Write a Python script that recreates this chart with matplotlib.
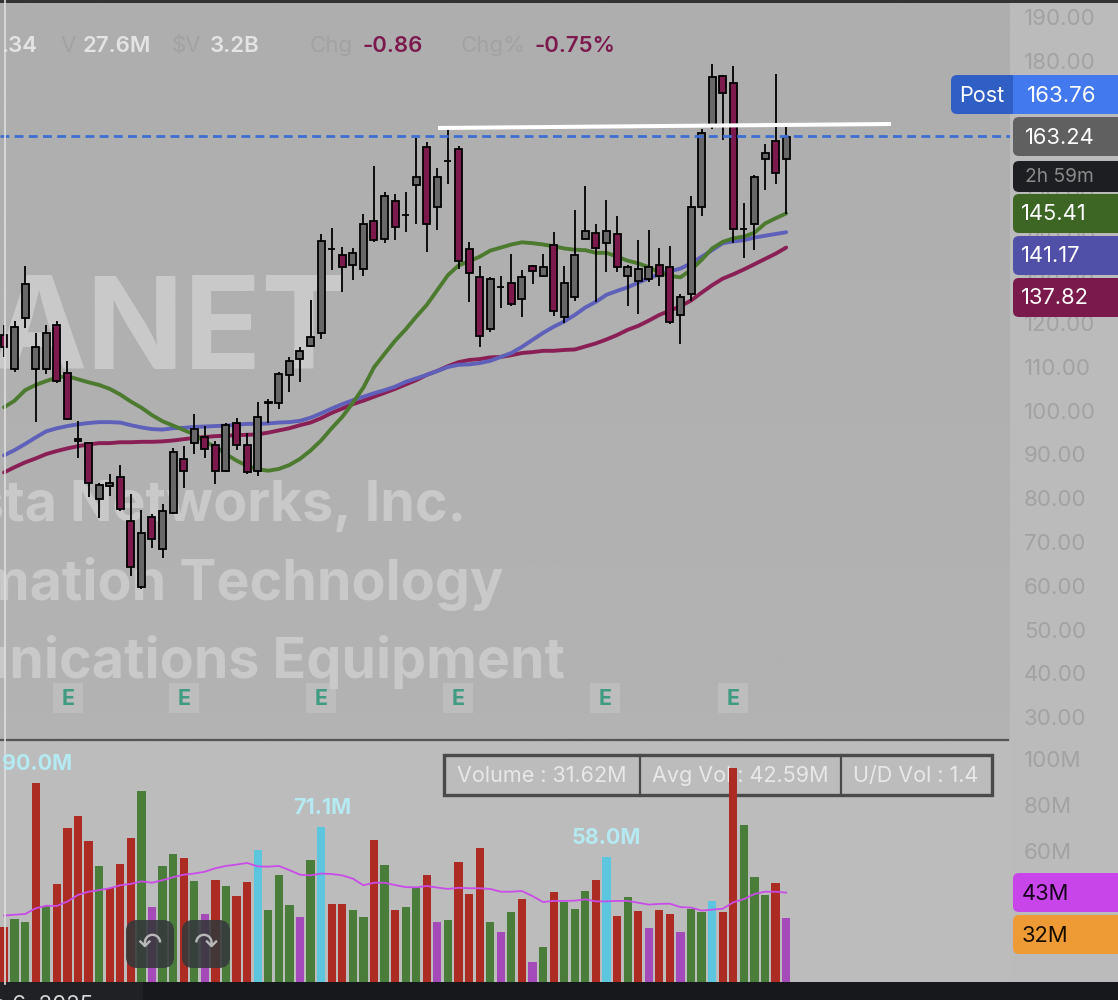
import numpy as np
import matplotlib
matplotlib.use('Agg')
import matplotlib.pyplot as plt
from matplotlib.patches import FancyBboxPatch, Rectangle

plt.rcParams['font.family'] = ['Inter', 'DejaVu Sans']

#-------------------------------------------------
# Values
#-------------------------------------------------
opens = [117.3, 109.5, 121.3, 109.5, 109.5, 119.7, 108.7, 93.6, 92.7, 79.8,
         82.9, 84.9, 74.9, 59.8, 75.8, 68.5, 76.7, 89.0, 92.7, 94.0,
         92.2, 86.2, 97.2, 92.2, 86.2, 101.7, 101.7, 108.1, 111.8, 114.9,
         117.7, 136.9, 135.6, 133.3, 132.3, 143.4, 139.3, 148.0, 144.7, 151.5,
         160.4, 146.5, 157.1, 159.9, 137.0, 130.6, 118.6, 128.3, 129.3, 125.5,
         133.0, 130.9, 138.0, 121.4, 125.9, 139.2, 140.7, 138.3, 140.3, 130.9,
         129.7, 130.2, 133.3, 132.9, 121.8, 126.8, 146.5, 165.3, 176.4, 175.0,
         141.5, 142.8, 157.5, 161.7, 157.5]
closes = [114.5, 119.2, 128.9, 114.6, 117.8, 106.8, 98.1, 93.0, 83.6, 83.1,
          83.6, 77.5, 64.3, 72.1, 70.8, 77.2, 90.5, 86.2, 95.9, 91.2,
          86.2, 96.8, 92.2, 86.1, 98.6, 101.9, 108.3, 111.4, 113.7, 116.9,
          138.9, 137.0, 132.8, 136.1, 142.6, 139.0, 149.1, 142.1, 144.8, 153.5,
          142.8, 153.5, 157.2, 134.2, 131.4, 117.2, 130.2, 128.4, 124.5, 130.6,
          131.9, 132.9, 122.7, 129.3, 135.7, 141.2, 137.3, 141.2, 132.8, 132.9,
          132.5, 132.9, 130.9, 120.4, 126.1, 146.6, 163.6, 176.4, 172.6, 141.5,
          141.6, 153.5, 159.0, 154.3, 162.6]
highs = [119.6, 120.6, 133.1, 117.8, 119.7, 120.6, 111.4, 97.7, 92.7, 83.6,
         85.5, 87.7, 80.9, 77.3, 76.4, 78.7, 91.4, 91.9, 99.2, 96.5,
         93.2, 97.3, 98.3, 95.0, 101.9, 102.8, 108.8, 112.4, 114.6, 125.3,
         140.3, 141.7, 137.5, 137.1, 145.0, 155.9, 149.9, 149.5, 150.0, 162.3,
         161.4, 155.4, 164.5, 160.5, 138.5, 133.1, 130.6, 130.8, 135.8, 132.2,
         133.3, 135.8, 140.8, 133.1, 145.9, 151.4, 142.6, 148.2, 144.5, 133.3,
         139.0, 141.3, 137.2, 137.6, 126.6, 149.1, 164.5, 179.3, 176.8, 178.8,
         147.6, 154.0, 161.0, 176.9, 164.9]
lows = [112.4, 108.9, 119.0, 97.5, 108.4, 106.3, 97.9, 89.3, 80.2, 75.6,
        80.5, 77.0, 62.3, 59.2, 68.7, 66.4, 76.5, 82.4, 90.1, 89.3,
        83.3, 86.1, 91.0, 85.6, 85.2, 97.1, 100.3, 104.3, 106.6, 114.5,
        116.3, 132.2, 127.2, 130.0, 130.9, 138.6, 138.3, 139.0, 140.9, 142.8,
        136.4, 141.3, 151.8, 132.3, 124.9, 114.5, 118.1, 123.6, 123.9, 121.4,
        129.0, 130.5, 121.7, 120.0, 125.0, 139.2, 124.9, 131.8, 131.7, 123.9,
        122.1, 129.5, 128.5, 119.8, 115.3, 125.0, 144.6, 164.3, 162.0, 138.3,
        135.0, 136.7, 150.5, 151.8, 145.0]

ma_green = [100.8, 102.3, 104.7, 105.9, 106.8, 107.6, 107.9, 107.2, 106.5, 105.9,
            105.0, 103.7, 102.1, 100.7, 99.0, 97.6, 96.6, 95.6, 94.6, 92.9,
            91.8, 90.1, 88.6, 87.4, 86.6, 86.3, 86.7, 87.6, 89.0, 90.9,
            93.2, 96.0, 98.6, 101.8, 105.3, 109.9, 113.0, 116.0, 118.6, 121.5,
            124.2, 127.6, 131.0, 133.2, 134.2, 135.2, 136.6, 137.3, 138.0, 138.5,
            138.3, 138.0, 137.6, 137.1, 136.8, 136.7, 136.1, 136.1, 135.2, 134.3,
            133.7, 132.8, 131.6, 130.8, 130.5, 132.2, 134.5, 137.1, 138.6, 139.4,
            139.8, 140.7, 142.8, 144.0, 145.1]
ma_blue = [89.8, 91.0, 92.4, 93.9, 95.3, 96.0, 96.5, 96.9, 97.2, 97.4,
           97.4, 97.3, 96.7, 96.2, 95.8, 95.7, 96.0, 96.1, 96.3, 96.4,
           96.5, 96.6, 96.8, 97.0, 97.0, 97.1, 97.3, 97.4, 97.7, 98.4,
           99.4, 100.5, 101.5, 102.4, 103.2, 104.0, 104.7, 105.5, 106.6, 107.4,
           108.2, 109.1, 110.0, 110.5, 110.6, 110.9, 111.4, 112.3, 113.2, 114.6,
           116.2, 117.8, 119.2, 120.4, 121.9, 123.6, 124.9, 126.5, 127.4, 128.2,
           129.3, 130.3, 131.2, 131.9, 132.5, 133.7, 135.2, 136.7, 138.3, 138.7,
           139.0, 139.6, 140.0, 140.4, 140.8]
ma_maroon = [85.9, 87.1, 88.2, 89.1, 90.1, 90.8, 91.4, 91.9, 92.3, 92.6,
             92.6, 92.8, 92.8, 92.9, 92.9, 93.0, 93.2, 93.5, 93.8, 94.0,
             94.2, 94.3, 94.4, 94.5, 94.6, 95.0, 95.5, 96.0, 96.7, 97.3,
             98.3, 99.5, 100.5, 101.5, 102.3, 103.2, 104.1, 105.0, 106.0, 107.0,
             108.2, 109.1, 110.2, 111.1, 111.6, 111.8, 112.2, 112.3, 112.7, 113.2,
             113.4, 113.7, 113.7, 113.9, 114.0, 114.7, 115.4, 116.3, 117.3, 118.5,
             119.4, 120.6, 121.9, 122.9, 123.9, 125.2, 127.0, 128.7, 130.2, 131.2,
             132.3, 133.5, 134.7, 135.9, 137.3]

volume = [27.1, 30.3, 29.3, 89.4, 36.2, 45.7, 69.9, 75.2, 64.5, 53.5,
          43.8, 54.2, 65.5, 86.2, 35.5, 53.5, 58.5, 57.1, 47.1, 32.6,
          47.3, 45.0, 40.4, 46.5, 60.3, 34.2, 49.7, 36.7, 31.5, 56.1,
          70.3, 37.1, 36.8, 34.5, 31.5, 64.8, 53.8, 34.5, 35.8, 43.8,
          49.4, 29.0, 30.0, 55.4, 41.2, 61.4, 29.3, 24.6, 33.5, 39.3,
          11.9, 18.3, 42.3, 37.8, 34.6, 42.5, 47.3, 57.5, 31.7, 40.2,
          33.9, 26.5, 34.3, 32.5, 25.0, 34.6, 33.6, 38.1, 33.6, 96.2,
          71.3, 48.6, 40.9, 46.0, 31.0]
# r red, g green, p purple, c cyan
volume_kind = list('rggrg' 'rrrrg' 'rrrgp' 'ggrgp' 'rgrrc' 'gggpg' 'crrgg'
                   'rgrgg' 'rpgrr' 'rgpgr' 'pgrgg' 'grcrg' 'rprrp' 'ggcrr'
                   'gggrp')
volume_ma = [31.9, 32.3, 32.6, 35.1, 36.2, 36.1, 38.0, 40.9, 42.3, 43.0,
             43.8, 45.1, 45.7, 46.8, 46.2, 47.3, 48.6, 49.7, 50.2, 51.0,
             52.5, 53.5, 54.1, 54.8, 53.3, 53.2, 53.5, 51.7, 49.7, 49.4,
             50.2, 50.0, 49.4, 48.0, 45.1, 46.2, 46.2, 45.2, 44.3, 44.2,
             44.8, 44.1, 43.5, 44.0, 43.8, 43.8, 43.5, 42.3, 42.3, 42.6,
             40.4, 37.8, 38.3, 38.3, 38.4, 39.0, 38.1, 38.1, 38.3, 38.3,
             37.5, 36.7, 37.0, 37.1, 35.6, 35.4, 34.1, 34.5, 34.9, 37.7,
             39.1, 41.3, 42.3, 42.3, 41.9]

price_ticks = [30, 40, 50, 60, 70, 80, 90, 100, 110, 120, 130, 140, 150, 160, 170, 180, 190]
volume_ticks = [60, 80, 100]
volume_tick_labels = ['60M', '80M', '100M']
earnings_x = [68, 184, 321, 458, 605, 733]
peak_labels = [('90.0M', 37, 763.5), ('71.1M', 322, 807.5), ('58.0M', 606, 837.5)]

#-------------------------------------------------
W, H = 1118, 1000
PANE_R = 1010
DPI = 100
GRAY, MAROON = '#686868', '#7c1a4e'
TICK_COL = '#a2a2a2'
KIND_COL = {'r': '#ac2c24', 'g': '#4a7d3a', 'p': '#a44bb9', 'c': '#5cc6df'}


def pane(y_top, y_bot, zorder):
    # axes given in pixels from the top left corner of the picture
    a = fig.add_axes([0, 1 - y_bot / H, PANE_R / W, (y_bot - y_top) / H], zorder=zorder)
    a.patch.set_alpha(0)
    for s in a.spines.values():
        s.set_visible(False)
    a.set_xlim(-4 / 10.57, (PANE_R - 4) / 10.57)
    a.xaxis.set_visible(False)
    a.yaxis.tick_right()
    a.tick_params(axis='y', length=0, pad=10, labelsize=16, labelcolor=TICK_COL)
    return a


def box(a, x0, y0, x1, y1, col, r=6, **kw):
    a.add_patch(FancyBboxPatch((x0 + r, y0 + r), x1 - x0 - 2 * r, y1 - y0 - 2 * r,
                               boxstyle='round,pad=%d,rounding_size=%d' % (r, r),
                               fc=col, ec='none', **kw))


fig = plt.figure(figsize=(W / DPI, H / DPI), dpi=DPI)

# background, watermark and stats box sit under the panes
bg = fig.add_axes([0, 0, 1, 1], zorder=0)
bg.set_xlim(0, W)
bg.set_ylim(H, 0)
bg.axis('off')
grad = np.linspace(0.68, 0.70, 256).reshape(-1, 1)
bg.imshow(grad, cmap='gray', vmin=0, vmax=1, extent=[0, PANE_R, 739, 0], aspect='auto')
bg.set_xlim(0, W)
bg.set_ylim(H, 0)
bg.add_patch(Rectangle((0, 739), PANE_R, 245, fc='#bcbcbc', ec='none'))
bg.add_patch(Rectangle((PANE_R, 0), W - PANE_R, 984, fc='#bbbbbb', ec='none'))
bg.add_patch(Rectangle((0, 0), W, 3, fc='#333333', ec='none'))
bg.add_patch(Rectangle((0, 982), W, 18, fc='#17181c', ec='none'))
bg.add_patch(Rectangle((0, 982), 143, 18, fc='#202125', ec='none'))
bg.plot([0, PANE_R - 2], [739.5, 739.5], color='#555555', lw=1.6)

wm = '#c9c9c9'
bg.text(347, 369, 'ANET', color=wm, fontsize=92, fontweight='bold', ha='right', va='baseline')
bg.text(466, 521, 'Arista Networks, Inc.', color=wm, fontsize=40, fontweight='bold', ha='right', va='baseline')
bg.text(503, 600, 'Information Technology', color=wm, fontsize=40, fontweight='bold', ha='right', va='baseline')
bg.text(565, 678, 'Communications Equipment', color=wm, fontsize=40, fontweight='bold', ha='right', va='baseline')

for x in earnings_x:
    bg.add_patch(Rectangle((x - 15, 683), 30, 30, fc='#bdbdbd', ec='none'))
    bg.text(x, 699, 'E', color='#3f9b82', fontsize=15.5, fontweight='bold', ha='center', va='center')

bg.add_patch(Rectangle((444, 755), 548, 40, fc='none', ec='#4a4a4a', lw=2.4))
for x in [640, 841]:
    bg.plot([x, x], [755, 795], color='#4a4a4a', lw=1.6)
stat_col = '#e8e8e8'
bg.text(542, 776.5, 'Volume : 31.62M', color=stat_col, fontsize=15.5, ha='center', va='center')
bg.text(740, 776.5, 'Avg Vol : 42.59M', color=stat_col, fontsize=15.5, ha='center', va='center')
bg.text(916, 776.5, 'U/D Vol : 1.4', color=stat_col, fontsize=15.5, ha='center', va='center')

# price pane, 4.375 px per dollar with 190 at y=17
ax = pane(3, 739, 1)
ax.set_ylim(190 - (739 - 17) / 4.375, 190 + (17 - 3) / 4.375)
ax.set_yticks(price_ticks)
ax.set_yticklabels(['%.2f' % p for p in price_ticks])

x = np.arange(len(closes))
ax.vlines(x, lows, highs, color='black', lw=1.3, zorder=3)
body_col = [GRAY if c >= o else MAROON for o, c in zip(opens, closes)]
ax.bar(x, np.abs(np.array(closes) - np.array(opens)), bottom=np.minimum(opens, closes),
       width=0.66, color=body_col, edgecolor='black', linewidth=1.3, zorder=4)
ax.plot(x, ma_maroon, color='#8a1f56', lw=2.8, zorder=2, solid_capstyle='round')
ax.plot(x, ma_blue, color='#5f60b9', lw=2.8, zorder=2, solid_capstyle='round')
ax.plot(x, ma_green, color='#4c7a2f', lw=2.8, zorder=2, solid_capstyle='round')
ax.axhline(162.8, color='#3d6fd2', lw=2.0, dashes=(3.2, 1.9), zorder=5)
ax.plot([(438 - 4) / 10.57, (891 - 4) / 10.57], [190 - (128 - 17) / 4.375, 190 - (124 - 17) / 4.375],
        color='white', lw=2.9, zorder=6, solid_capstyle='butt')

# volume pane, 2.3 px per million with 60M at y=851
vax = pane(740, 982, 1)
vax.set_ylim(60 - (982 - 851) / 2.3, 60 + (851 - 740) / 2.3)
vax.set_yticks(volume_ticks)
vax.set_yticklabels(volume_tick_labels)
vax.bar(x, volume, width=0.78, color=[KIND_COL[k] for k in volume_kind], zorder=2)
vax.plot(x, volume_ma, color='#c94ce8', lw=1.3, zorder=3)

# things drawn on top of everything
top = fig.add_axes([0, 0, 1, 1], zorder=5)
top.set_xlim(0, W)
top.set_ylim(H, 0)
top.axis('off')
top.plot([5, 5], [0, 984], color='#dedede', lw=1.2)

# quote line
hdr = [('.34', 1, '#e4e4e4', 'semibold'), ('V', 60, TICK_COL, 'normal'), ('27.6M', 83, '#e4e4e4', 'semibold'),
       ('$V', 172, TICK_COL, 'normal'), ('3.2B', 210, '#e4e4e4', 'semibold'), ('Chg', 310, TICK_COL, 'normal'),
       ('-0.86', 362, MAROON, 'semibold'), ('Chg%', 461, TICK_COL, 'normal'), ('-0.75%', 535, MAROON, 'semibold')]
for s, hx, c, wgt in hdr:
    top.text(hx, 46, s, color=c, fontsize=16, fontweight=wgt, ha='left', va='center')

for s, px, py in peak_labels:
    top.text(px, py, s, color='#b6eaf3', fontsize=15.5, fontweight='bold', ha='center', va='center')

# price and indicator tags on the right axis
box(top, 951, 75, 1030, 114, '#2f5fc4')
top.add_patch(Rectangle((1013, 75), 110, 39, fc='#4279ee', ec='none'))
top.text(982, 95.5, 'Post', color='white', fontsize=15.6, ha='center', va='center')
top.text(1062, 95.5, '163.76', color='white', fontsize=16, ha='center', va='center')
tags = [('163.24', 117, 156, '#606060', 'white', 1025),
        ('145.41', 194, 233, '#3d6524', 'white', 1021),
        ('141.17', 236, 275, '#5050a8', 'white', 1021),
        ('137.82', 278, 317, '#7a1a4c', 'white', 1021),
        ('43M', 873, 912, '#c845ea', '#16031c', 1022),
        ('32M', 915, 954, '#ee9a35', '#170d02', 1022)]
for s, y0, y1, fc, tc, tx in tags:
    box(top, 1013, y0, 1130, y1, fc)
    top.text(tx, (y0 + y1) / 2 + 1, s, color=tc, fontsize=15.8, ha='left', va='center')
box(top, 1013, 161, 1130, 192, '#1d1e22')
top.text(1025, 177.5, '2h 59m', color='#8a8a8a', fontsize=13.8, ha='left', va='center')

# undo / redo buttons
for bx, glyph in [(126, '\u21b6'), (182, '\u21b7')]:
    box(top, bx, 920, bx + 48, 968, '#35383a', r=11, alpha=0.88)
    top.text(bx + 24, 945, glyph, color='#b8b8b8', fontsize=21, ha='center', va='center',
             family='DejaVu Sans')

# date line, cut off by the bottom of the picture
top.text(93, 1005, 'Sep 6, 2025', color='#d8d8d8', fontsize=16, ha='right', va='center')

fig.savefig('out.png', dpi=DPI)
